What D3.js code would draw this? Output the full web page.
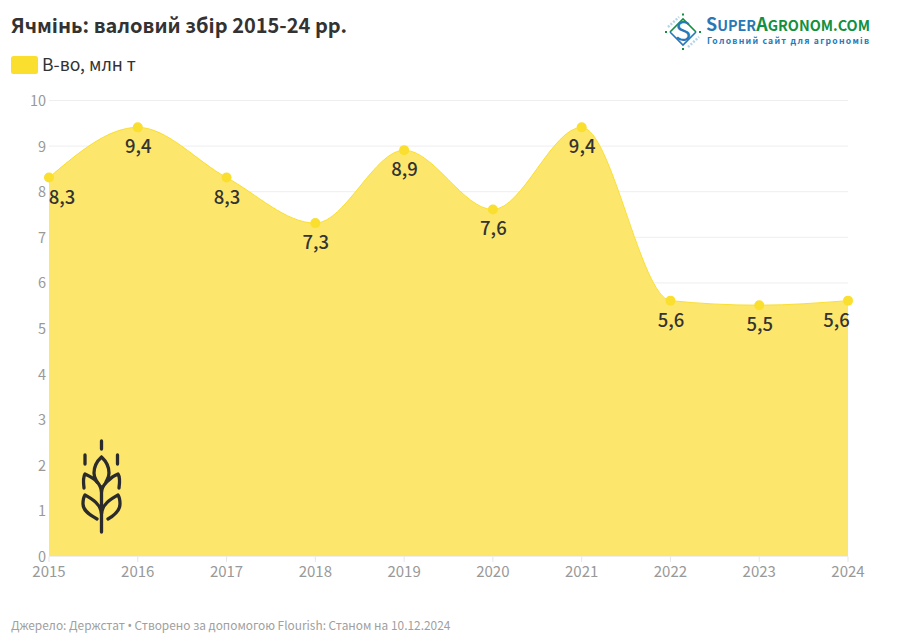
<!DOCTYPE html>
<html><head><meta charset="utf-8">
<script src="https://cdn.jsdelivr.net/npm/d3@7"></script>
<style>
html,body{margin:0;padding:0;background:#fff}
svg{display:block}
text{font-family:"Noto Sans CJK SC","Noto Sans",sans-serif}
</style></head><body>
<svg id="c" width="900" height="639"></svg>
<script>
const years=[2015,2016,2017,2018,2019,2020,2021,2022,2023,2024];
const values=[8.3,9.4,8.3,7.3,8.9,7.6,9.4,5.6,5.5,5.6];
const yTicks=[0,1,2,3,4,5,6,7,8,9,10];
const valueLabels=["8,3","9,4","8,3","7,3","8,9","7,6","9,4","5,6","5,5","5,6"];
const titleText="Ячмінь: валовий збір 2015-24 рр.";
const legendText="В-во, млн т";
const footerParts=["Джерело: Держстат ","•"," Створено за допомогою Flourish: Станом на 10.12.2024"];

const svg=d3.select("#c");
const x=d3.scaleLinear().domain([2015,2024]).range([49,848]);
const y=d3.scaleLinear().domain([0,10]).range([556,100]);
const yellow="#FADF2F";

svg.append("text").attr("x",11).attr("y",32.5).attr("font-size",20).attr("font-weight",700).attr("fill","#333").text(titleText);
svg.append("rect").attr("x",11).attr("y",56).attr("width",27).attr("height",18).attr("rx",2.5).attr("fill",yellow);
svg.append("text").attr("x",42).attr("y",71).attr("font-size",17.6).attr("fill","#333").text(legendText);

svg.append("g").selectAll("line").data(yTicks).join("line")
 .attr("x1",49).attr("x2",848).attr("y1",d=>y(d)+0.5).attr("y2",d=>y(d)+0.5).attr("stroke","#eeeeee").attr("stroke-width",1);
svg.append("g").selectAll("text").data(yTicks).join("text")
 .attr("x",46).attr("y",d=>y(d)+6).attr("text-anchor","end").attr("font-size",14.5).attr("fill","#999").text(d=>d);
svg.append("g").selectAll("line").data(years).join("line")
 .attr("x1",d=>x(d)).attr("x2",d=>x(d)).attr("y1",556.5).attr("y2",562).attr("stroke","#e6e6e6");
svg.append("g").selectAll("text").data(years).join("text")
 .attr("x",d=>x(d)).attr("y",577).attr("text-anchor","middle").attr("font-size",15).attr("fill","#999").text(d=>d);

const pts=years.map((d,i)=>[d,values[i]]);
svg.append("path").attr("d",d3.area().x(d=>x(d[0])).y0(y(0)).y1(d=>y(d[1])).curve(d3.curveMonotoneX)(pts))
 .attr("fill","#FCE76C");
svg.append("path").attr("d",d3.line().x(d=>x(d[0])).y(d=>y(d[1])).curve(d3.curveMonotoneX)(pts))
 .attr("fill","none").attr("stroke",yellow).attr("stroke-width",1);
svg.append("g").selectAll("circle").data(pts).join("circle")
 .attr("cx",d=>x(d[0])).attr("cy",d=>y(d[1])).attr("r",5).attr("fill",yellow);
svg.append("g").selectAll("text").data(pts).join("text")
 .attr("x",(d,i)=>x(d[0])+(i===0?13:i===9?-11.5:0.5)).attr("y",d=>y(d[1])+26)
 .attr("text-anchor","middle").attr("font-size",18.5).attr("font-weight",500).attr("fill","#333")
 .text((d,i)=>valueLabels[i]);

// wheat icon
const w=svg.append("g").attr("fill","none").attr("stroke","#2b2b2b").attr("stroke-width",3.3).attr("stroke-linecap","round").attr("stroke-linejoin","round");
[
 "M101.5 441V449",
 "M85 455V464","M117.5 455V464",
 "M101.5 532V487",
 "M101.5 457C95 463 94 469 94 473C94 478 96 480 97 482M101.5 457C108 463 109 469 109 473C109 478 107 480 106 482",
 "M84 488C83 480 83 477 85 474C92 477 101 483 101.5 492C101.5 486 110 477 118 474C120 477 120 481 119 488",
 "M97 519C88 514 83 510 83 504C83 501 83 498 85 495C92 499 101 504 101.5 514C102 504 111 499 118 495C120 498 120 501 120 504C120 510 115 515 108 519"
].forEach(p=>w.append("path").attr("d",p));

// logo
const blue="#2878b8",green="#12903f";
const l=svg.append("g");
l.append("path").attr("d","M670 32L683 19L696 32").attr("fill","none").attr("stroke",green).attr("stroke-width",1.6);
l.append("path").attr("d","M670 32L683 45L696 32").attr("fill","none").attr("stroke",blue).attr("stroke-width",1.6);
l.append("path").attr("d","M668 27L679 17").attr("stroke","#b5d3ea").attr("stroke-width",2.5).attr("stroke-dasharray","2 1.5");
l.append("path").attr("d","M688 47L699 37").attr("stroke","#b5d3ea").attr("stroke-width",2.5).attr("stroke-dasharray","2 1.5");
l.append("text").attr("x",683).attr("y",41).attr("text-anchor","middle").attr("font-size",27).attr("fill",blue).text("S");
[[683,14.5],[683,49],[666,32],[700,32]].forEach(p=>l.append("rect").attr("x",p[0]-1).attr("y",p[1]-1).attr("width",2).attr("height",2).attr("fill",green));
const t=l.append("text").attr("x",706).attr("y",31).attr("font-weight",700).attr("font-family","'Open Sans',sans-serif").attr("textLength",164).attr("lengthAdjust","spacingAndGlyphs");
[["S",blue,18],["UPER",blue,14.5],["A",green,18],["GRONOM.COM",green,14.5]].forEach(a=>t.append("tspan").attr("fill",a[1]).attr("font-size",a[2]).text(a[0]));
l.append("text").attr("x",707).attr("y",44).attr("font-size",8.6).attr("font-weight",700).attr("font-family","'DejaVu Sans',sans-serif").attr("fill",blue).attr("textLength",162).attr("lengthAdjust","spacing").text("Головний сайт для агрономів");

const f=svg.append("text").attr("x",11).attr("y",629.5).attr("font-size",11.9).attr("fill","#a0a0a0");
f.append("tspan").text(footerParts[0]);
f.append("tspan").attr("font-family","'Noto Sans',sans-serif").text(footerParts[1]);
f.append("tspan").text(footerParts[2]);
</script>
</body></html>
